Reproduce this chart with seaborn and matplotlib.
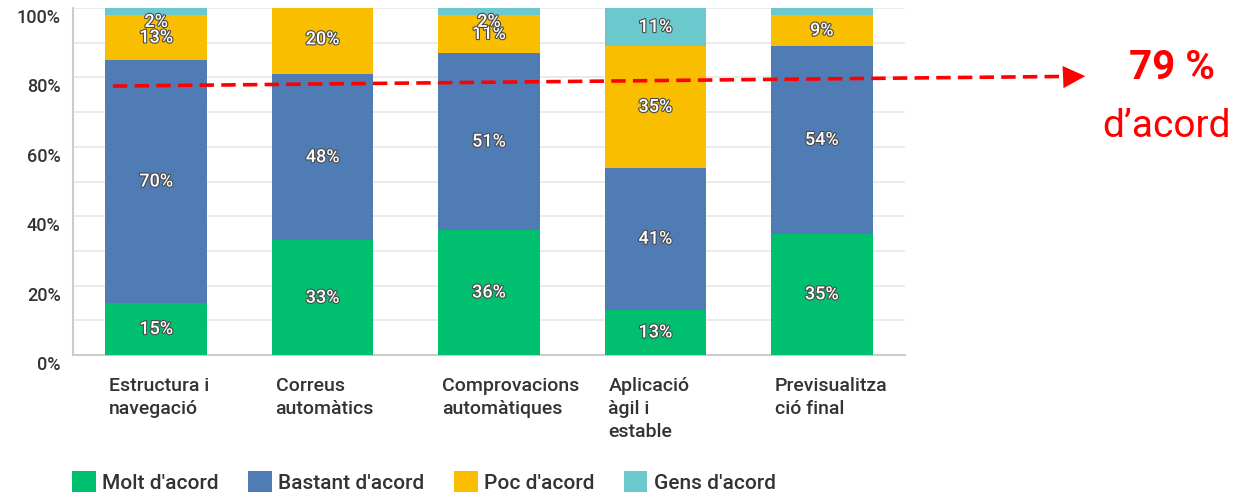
import matplotlib
matplotlib.use("Agg")
import matplotlib.pyplot as plt
import matplotlib.transforms as mtransforms
import matplotlib.patheffects as pe
from matplotlib.patches import Patch
import numpy as np
import pandas as pd
import seaborn as sns

# ============================================
# Data
# ============================================
categories = [
    "Estructura i\nnavegació",
    "Correus\nautomàtics",
    "Comprovacions\nautomàtiques",
    "Aplicació\nàgil i\nestable",
    "Previsualitza\nció final",
]
molt = [15, 33, 36, 13, 35]
bastant = [70, 48, 51, 41, 54]
poc = [13, 20, 11, 35, 9]
gens = [2, 0, 2, 11, 2]
gens_shown = [True, False, True, True, False]

series_names = ["Molt d'acord", "Bastant d'acord", "Poc d'acord", "Gens d'acord"]
series_colors = ["#00BF6F", "#507CB6", "#F9BE00", "#6BC8CD"]
agree_total = 79

# ============================================
# Build table
# ============================================
df = pd.DataFrame({
    "cat": categories,
    "Molt d'acord": molt,
    "Bastant d'acord": bastant,
    "Poc d'acord": poc,
    "Gens d'acord": gens,
})
cum = df[series_names].cumsum(axis=1)

sns.set_theme(style="white")
plt.rcParams["font.family"] = ["Roboto", "DejaVu Sans"]

fig = plt.figure(figsize=(12.38, 4.98), dpi=100)
ax = fig.add_axes([73 / 1238, 1 - 355 / 498, 832 / 1238, 347 / 498])

# stacked bars: draw cumulative totals from the top down
for name, color in reversed(list(zip(series_names, series_colors))):
    sns.barplot(
        x=df["cat"], y=cum[name], color=color, width=0.61,
        saturation=1, ax=ax, zorder=3, linewidth=0,
    )

# segment labels
for s_idx, name in enumerate(series_names):
    bottoms = cum[name] - df[name]
    for i in range(len(categories)):
        v = df[name][i]
        if v == 0:
            continue
        if name == "Gens d'acord" and not gens_shown[i]:
            continue
        y = bottoms[i] + v / 2 if v >= 5 else bottoms[i] - 2
        ax.text(
            i, y, f"{v}%", ha="center", va="center", fontsize=13,
            color="white", fontweight="medium", zorder=5,
            path_effects=[pe.withStroke(linewidth=1.6, foreground="#4a4a4a")],
        )

# axes styling
ax.set_xlim(-0.5, 4.5)
ax.set_ylim(0, 100)
ax.set_yticks(range(0, 101, 20))
ax.set_yticklabels([f"{t}%" for t in range(0, 101, 20)])
ax.set_yticks(range(10, 100, 20), minor=True)
ax.grid(axis="y", which="both", color="#e8e8e8", linewidth=1.2, zorder=0)
ax.set_axisbelow(True)
ax.set_xlabel("")
ax.set_ylabel("")

for side in ["top", "right"]:
    ax.spines[side].set_visible(False)
for side in ["left", "bottom"]:
    ax.spines[side].set_color("#cccccc")
    ax.spines[side].set_linewidth(1.5)

ax.tick_params(axis="y", which="both", length=0, pad=9, labelsize=13, labelcolor="#333333")
ax.tick_params(axis="x", length=0, pad=16, labelsize=14, labelcolor="#333333")

ax.set_xticks(range(len(categories)))
ax.set_xticklabels(categories, ha="left", va="top", linespacing=1.35, fontweight="medium")

y_off = mtransforms.ScaledTranslation(0, -0.08, fig.dpi_scale_trans)
for lab in ax.get_yticklabels():
    lab.set_transform(lab.get_transform() + y_off)
    lab.set_fontweight("medium")
x_off = mtransforms.ScaledTranslation(-0.47, 0, fig.dpi_scale_trans)
for lab in ax.get_xticklabels():
    lab.set_transform(lab.get_transform() + x_off)

# ============================================
# 79 % d'acord annotation
# ============================================
ax.plot([-0.26, 5.50], [agree_total - 1.5, agree_total + 1.3], color="red",
        linewidth=2.6, dashes=(4, 2), clip_on=False, zorder=6)
ax.annotate("", xy=(5.60, agree_total + 1.4), xytext=(5.45, agree_total + 1.1),
            arrowprops=dict(arrowstyle="-|>,head_length=0.8,head_width=0.4",
                            color="red", linewidth=0, mutation_scale=20),
            annotation_clip=False, zorder=6)

fig.text(1172 / 1238, 1 - 68 / 498, f"{agree_total} %", color="red", fontsize=29,
         fontweight="bold", ha="center", va="center")
fig.text(1166 / 1238, 1 - 126 / 498, "d\u2019acord", color="red", fontsize=28,
         ha="center", va="center")

# ============================================
# Legend
# ============================================
handles = [Patch(facecolor=c, edgecolor="none", label=n)
           for n, c in zip(series_names, series_colors)]
fig.legend(
    handles=handles, loc="center left", bbox_to_anchor=(72 / 1238, 1 - 482 / 498),
    ncol=4, frameon=False, handlelength=1.15, handleheight=1.15,
    handletextpad=0.3, columnspacing=1.4, borderpad=0, borderaxespad=0,
    prop={"weight": "medium", "size": 15},
)
for t in fig.legends[0].get_texts():
    t.set_color("#333333")

plt.savefig("out.png", dpi=100)
